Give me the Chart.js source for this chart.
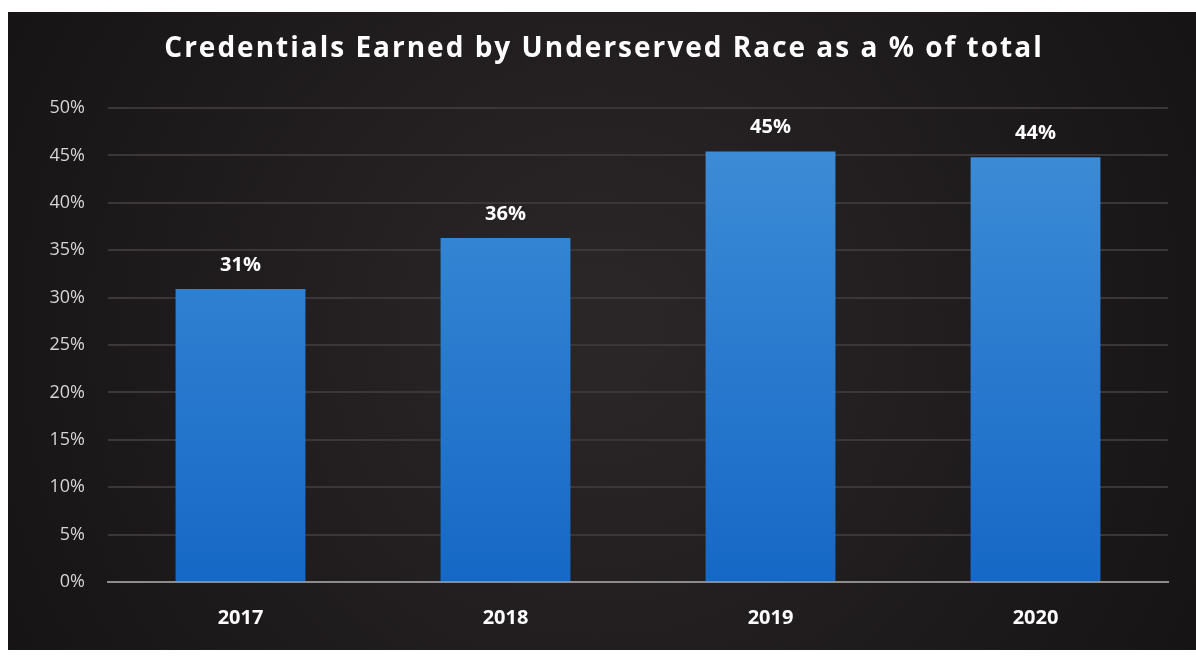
<!DOCTYPE html>
<html>
<head>
<meta charset="utf-8">
<script src="https://cdn.jsdelivr.net/npm/chart.js@4"></script>
<style>
  html, body { margin: 0; padding: 0; background: #ffffff; }
  #chart { display: block; }
</style>
</head>
<body>
<canvas id="chart" width="1196" height="656"></canvas>
<script>
// --- Chart data ---
const years = ['2017', '2018', '2019', '2020'];
const shares = [30.9, 36.3, 45.4, 44.8];
const shareLabels = ['31%', '36%', '45%', '44%'];
const yTicks = [0, 5, 10, 15, 20, 25, 30, 35, 40, 45, 50];
const titleText = 'Credentials Earned by Underserved Race as a % of total';

const FONT = '"Open Sans", "Noto Sans", sans-serif';

// dark slide background + spaced-out title
const slideBackground = {
    id: 'slideBackground',
    beforeDraw(chart) {
        const { ctx, width, height } = chart;
        ctx.save();
        ctx.fillStyle = '#ffffff';
        ctx.fillRect(0, 0, width, height);
        const g = ctx.createRadialGradient(600, 330, 50, 600, 330, 700);
        g.addColorStop(0, '#2a2628');
        g.addColorStop(1, '#161314');
        ctx.fillStyle = g;
        ctx.fillRect(8, 12, width - 8, height - 18);

        ctx.fillStyle = '#ffffff';
        ctx.font = `bold 28px ${FONT}`;
        ctx.letterSpacing = '2px';
        ctx.textAlign = 'center';
        ctx.textBaseline = 'middle';
        ctx.fillText(titleText, 604, 49);
        ctx.restore();
        ctx.letterSpacing = '0px';
    }
};

// value labels above each bar
const barLabels = {
    id: 'barLabels',
    afterDatasetsDraw(chart) {
        const { ctx } = chart;
        const meta = chart.getDatasetMeta(0);
        ctx.save();
        ctx.fillStyle = '#ffffff';
        ctx.font = `bold 20px ${FONT}`;
        ctx.textAlign = 'center';
        ctx.textBaseline = 'bottom';
        meta.data.forEach((bar, i) => {
            ctx.fillText(shareLabels[i], bar.x, bar.y - 14);
        });
        ctx.restore();
    }
};

const ctx = document.getElementById('chart').getContext('2d');

function barGradient(context) {
    const area = context.chart.chartArea;
    if (!area) return '#2a7fd0';
    const g = context.chart.ctx.createLinearGradient(0, area.top, 0, area.bottom);
    g.addColorStop(0, '#3f8fd8');
    g.addColorStop(1, '#1668c6');
    return g;
}

new Chart(ctx, {
    type: 'bar',
    data: {
        labels: years,
        datasets: [{
            label: 'Credentials Earned by Underserved Race',
            data: shares,
            backgroundColor: barGradient,
            borderWidth: 0,
            categoryPercentage: 1,
            barPercentage: 0.49
        }]
    },
    options: {
        responsive: false,
        animation: false,
        layout: { padding: { top: 108, left: 8, right: 28, bottom: 2 } },
        plugins: {
            legend: { display: false },
            tooltip: { enabled: false },
            title: { display: false }
        },
        scales: {
            x: {
                grid: { display: false, drawTicks: false },
                border: { color: '#8e8b8c', width: 2 },
                ticks: { color: '#ffffff', font: { family: FONT, size: 20, weight: 'bold' }, padding: 24 }
            },
            y: {
                min: 0,
                max: 50,
                afterFit: s => { s.width = 100; },
                afterBuildTicks: s => { s.ticks = yTicks.map(v => ({ value: v })); },
                grid: { color: '#3b3739', lineWidth: 2, drawTicks: false },
                border: { display: false },
                ticks: {
                    color: '#d6d4d5',
                    font: { family: FONT, size: 18 },
                    padding: 23,
                    callback: v => v + '%'
                }
            }
        }
    },
    plugins: [slideBackground, barLabels]
});
</script>
</body>
</html>
